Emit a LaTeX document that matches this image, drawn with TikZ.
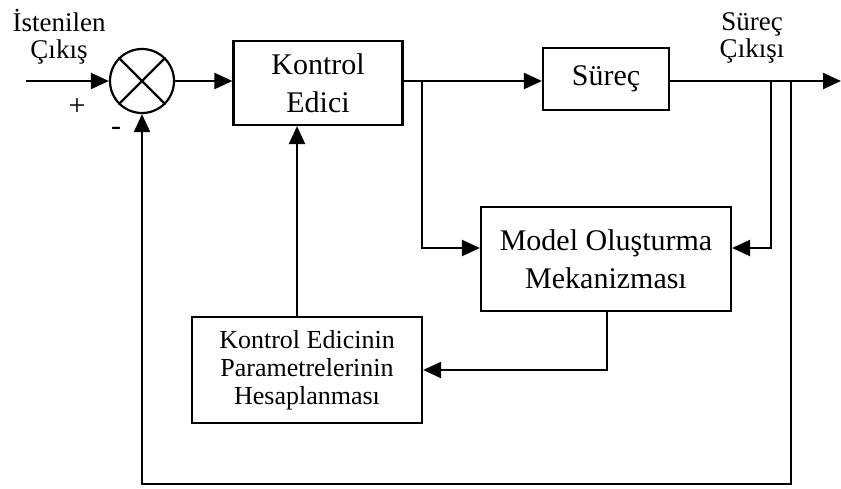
\documentclass[tikz,border=0pt]{standalone}
\usepackage{fontspec}
\setmainfont{Liberation Serif}
\usetikzlibrary{arrows.meta,positioning,calc}

\begin{document}
\begin{tikzpicture}[x=0.5pt, y=-0.5pt, line width=1.1pt, >={Triangle[length=9pt,width=8pt]},
block/.style={draw,rectangle,align=center,font=\fontsize{15}{19}\selectfont,inner sep=0pt},
small block/.style={block,font=\fontsize{13}{14}\selectfont},
sum node/.style={draw,circle,minimum size=32pt,inner sep=0pt},
lbl/.style={align=center,font=\fontsize{13.5}{13.5}\selectfont,inner sep=0pt}]
\useasboundingbox (0,0) rectangle (841,488);
% blocks
\node[sum node] (sum) at (142,81) {};
\draw (sum.north west) -- (sum.south east);
\draw (sum.north east) -- (sum.south west);
\node[block, minimum width=84.5pt, minimum height=42pt] (ctrl) at (318,83) {Kontrol\\Edici};
\node[block, minimum width=63pt, minimum height=31pt] (proc) at (606,79) {Süreç};
\node[block, minimum width=125pt, minimum height=52pt] (model) at (606,259) {Model Oluşturma\\Mekanizması};
\node[small block, minimum width=115pt, minimum height=53pt] (calc) at (307,370) {Kontrol Edicinin\\Parametrelerinin\\Hesaplanması};
% labels
\node[lbl] (ref) at (59,37) {İstenilen\\Çıkış};
\node[lbl] (out) at (752,38) {Süreç\\Çıkışı};
\node[font=\fontsize{15}{15}\selectfont, inner sep=0pt] (plus) at (77,107) {+};
\node[font=\fontsize{15}{15}\selectfont, inner sep=0pt] (minus) at (116,131) {-};
% points
\coordinate (in) at (26,81);
\coordinate (end) at (841,81);
\coordinate (b1) at (422,81);
\coordinate (b2) at (771,81);
\coordinate (b3) at (791,81);
\coordinate (m1) at (607,311);
\coordinate (c1) at (297,317);
% connections
\draw[->] (in) -- (sum.west);
\draw[->] (sum.east) -- (sum.east -| ctrl.west);
\draw[->] (ctrl.east |- b1) -- (proc.west |- b1);
\draw[->] (proc.east |- b1) -- (end);
\draw[->] (b1) |- ($(model.west)+(0,-11)$);
\draw[->] (b2) |- ($(model.east)+(0,-11)$);
\draw[->] (m1) |- (calc.east -| calc.east);
\draw[->] (c1) -- (c1 |- ctrl.south);
\draw[->] (b3) -- (791,484) -- (142,484) -- (sum.south);
\end{tikzpicture}
\end{document}
